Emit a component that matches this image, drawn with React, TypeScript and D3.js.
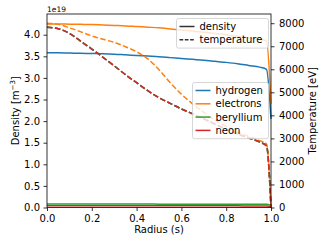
import React, { useEffect, useRef } from 'react';
import * as d3 from 'd3';

// radial grid (normalised radius)
const radius = [0, 0.05, 0.1, 0.15, 0.2, 0.25, 0.3, 0.35, 0.4, 0.45, 0.5, 0.55, 0.6, 0.65, 0.7, 0.75, 0.8, 0.85, 0.9, 0.95, 0.98, 1.0];

// densities in units of 1e19 m^-3
const hydrogenDensity = [3.58, 3.58, 3.575, 3.57, 3.565, 3.56, 3.55, 3.535, 3.52, 3.505, 3.49, 3.47, 3.45, 3.43, 3.41, 3.385, 3.36, 3.33, 3.29, 3.25, 3.2, 2.05];
const electronDensity = [4.25, 4.25, 4.245, 4.24, 4.235, 4.225, 4.215, 4.205, 4.19, 4.175, 4.16, 4.135, 4.11, 4.085, 4.06, 4.03, 4.0, 3.965, 3.93, 3.89, 3.86, 2.4];
const berylliumDensity = [0.08, 0.08, 0.08, 0.08, 0.08, 0.08, 0.08, 0.079, 0.079, 0.079, 0.078, 0.078, 0.078, 0.077, 0.077, 0.077, 0.076, 0.076, 0.076, 0.075, 0.075, 0.05];
const neonDensity = [0.04, 0.04, 0.04, 0.04, 0.04, 0.04, 0.04, 0.04, 0.04, 0.039, 0.039, 0.039, 0.039, 0.039, 0.038, 0.038, 0.038, 0.038, 0.037, 0.037, 0.037, 0.025];

// temperatures in eV
const electronTemperature = [8000, 7950, 7800, 7630, 7450, 7300, 7170, 6980, 6760, 6450, 5980, 5420, 4920, 4500, 4130, 3800, 3520, 3290, 3090, 2900, 2760, 0];
const hydrogenTemperature = [7820, 7760, 7560, 7220, 6880, 6520, 6150, 5770, 5420, 5070, 4770, 4520, 4280, 4070, 3850, 3620, 3400, 3200, 3020, 2840, 2680, 0];
const berylliumTemperature = [7820, 7760, 7560, 7220, 6880, 6520, 6150, 5770, 5420, 5070, 4770, 4520, 4280, 4070, 3850, 3620, 3400, 3200, 3020, 2840, 2680, 0];
const neonTemperature = [7820, 7760, 7560, 7220, 6880, 6520, 6150, 5770, 5420, 5070, 4770, 4520, 4280, 4070, 3850, 3620, 3400, 3200, 3020, 2840, 2680, 0];

const species = ['hydrogen', 'electrons', 'beryllium', 'neon'];
const colors = ['#1f77b4', '#ff7f0e', '#2ca02c', '#d62728'];
const densities = [hydrogenDensity, electronDensity, berylliumDensity, neonDensity];
const temperatures = [hydrogenTemperature, electronTemperature, berylliumTemperature, neonTemperature];

const densityTicks = [0, 0.5, 1, 1.5, 2, 2.5, 3, 3.5, 4];
const temperatureTicks = [0, 1000, 2000, 3000, 4000, 5000, 6000, 7000, 8000];
const radiusTicks = [0, 0.2, 0.4, 0.6, 0.8, 1.0];

const App = () => {
  const svgRef = useRef<SVGSVGElement>(null);

  useEffect(() => {
    if (!svgRef.current) return;
    const svg = d3.select(svgRef.current);
    svg.selectAll('*').remove();

    const width = 324;
    const height = 243;
    const margin = { top: 14, right: 53, bottom: 35.5, left: 47 };
    const font = '"DejaVu Sans", sans-serif';

    const x = d3.scaleLinear().domain([0, 1]).range([margin.left, width - margin.right]);
    const yDen = d3.scaleLinear().domain([0, 4.48]).range([height - margin.bottom, margin.top]);
    const yTemp = d3.scaleLinear().domain([0, 8400]).range([height - margin.bottom, margin.top]);

    svg.attr('width', width).attr('height', height)
      .style('font-family', font);

    // density lines (left axis)
    densities.forEach((vals, i) => {
      const line = d3.line<number>()
        .x((_, j) => x(radius[j]))
        .y(d => yDen(d))
        .curve(d3.curveMonotoneX);
      svg.append('path')
        .attr('d', line(vals))
        .attr('fill', 'none')
        .attr('stroke', colors[i])
        .attr('stroke-width', 1.5);
    });

    // temperature lines (right axis)
    temperatures.forEach((vals, i) => {
      const line = d3.line<number>()
        .x((_, j) => x(radius[j]))
        .y(d => yTemp(d))
        .curve(d3.curveMonotoneX);
      svg.append('path')
        .attr('d', line(vals))
        .attr('fill', 'none')
        .attr('stroke', colors[i])
        .attr('stroke-width', 1.5)
        .attr('stroke-dasharray', '5.55,2.4');
    });

    // axes
    const axisStyle = (g: d3.Selection<SVGGElement, unknown, null, undefined>) => {
      g.selectAll('path').remove();
      g.selectAll('line').attr('stroke', '#000').attr('stroke-width', 0.8);
      g.selectAll('text').attr('font-family', font).attr('font-size', 10).attr('fill', '#000');
    };

    svg.append('g')
      .attr('transform', `translate(0,${height - margin.bottom})`)
      .call(d3.axisBottom(x).tickValues(radiusTicks).tickFormat(d3.format('.1f')).tickSize(3.5).tickPadding(3.5))
      .call(axisStyle);

    svg.append('g')
      .attr('transform', `translate(${margin.left},0)`)
      .call(d3.axisLeft(yDen).tickValues(densityTicks).tickFormat(d3.format('.1f')).tickSize(3.5).tickPadding(3.5))
      .call(axisStyle);

    svg.append('g')
      .attr('transform', `translate(${width - margin.right},0)`)
      .call(d3.axisRight(yTemp).tickValues(temperatureTicks).tickFormat(d3.format('d')).tickSize(3.5).tickPadding(4.5))
      .call(axisStyle);

    // frame
    svg.append('rect')
      .attr('x', margin.left)
      .attr('y', margin.top)
      .attr('width', width - margin.left - margin.right)
      .attr('height', height - margin.top - margin.bottom)
      .attr('fill', 'none')
      .attr('stroke', '#000')
      .attr('stroke-width', 0.8);

    // labels
    svg.append('text')
      .attr('x', (margin.left + width - margin.right) / 2)
      .attr('y', 233)
      .attr('text-anchor', 'middle')
      .attr('font-size', 10)
      .text('Radius (s)');

    const yl = svg.append('text')
      .attr('transform', `translate(19,${(margin.top + height - margin.bottom) / 2}) rotate(-90)`)
      .attr('text-anchor', 'middle')
      .attr('font-size', 10);
    yl.append('tspan').text('Density [m');
    yl.append('tspan').attr('dy', -4).attr('font-size', 7).text('−3');
    yl.append('tspan').attr('dy', 4).text(']');

    svg.append('text')
      .attr('transform', `translate(316,${(margin.top + height - margin.bottom) / 2}) rotate(-90)`)
      .attr('text-anchor', 'middle')
      .attr('font-size', 10)
      .text('Temperature [eV]');

    svg.append('text')
      .attr('x', margin.left)
      .attr('y', 12)
      .attr('font-size', 7.5)
      .text('1e19');

    // legend helper
    const legend = (x0: number, y0: number, w: number, rows: { label: string; color: string; dash?: string }[]) => {
      const rowH = 13.3;
      const g = svg.append('g');
      g.append('rect')
        .attr('x', x0).attr('y', y0)
        .attr('width', w).attr('height', rows.length * rowH + 3)
        .attr('rx', 2)
        .attr('fill', '#fff').attr('fill-opacity', 0.8)
        .attr('stroke', '#cccccc').attr('stroke-width', 0.8);
      rows.forEach((r, i) => {
        const cy = y0 + 8 + i * rowH;
        g.append('line')
          .attr('x1', x0 + 3).attr('x2', x0 + 18)
          .attr('y1', cy).attr('y2', cy)
          .attr('stroke', r.color).attr('stroke-width', 1.5)
          .attr('stroke-dasharray', r.dash || null);
        g.append('text')
          .attr('x', x0 + 23).attr('y', cy + 3.6)
          .attr('font-size', 10)
          .text(r.label);
      });
    };

    legend(176.5, 18.5, 92, [
      { label: 'density', color: '#333' },
      { label: 'temperature', color: '#333', dash: '3.7,1.6' },
    ]);

    legend(192.5, 82.5, 76, species.map((s, i) => ({ label: s, color: colors[i] })));
  }, []);

  return (
    <svg ref={svgRef} style={{ position: 'absolute', left: 0, top: 0 }}></svg>
  );
};

export default App;
